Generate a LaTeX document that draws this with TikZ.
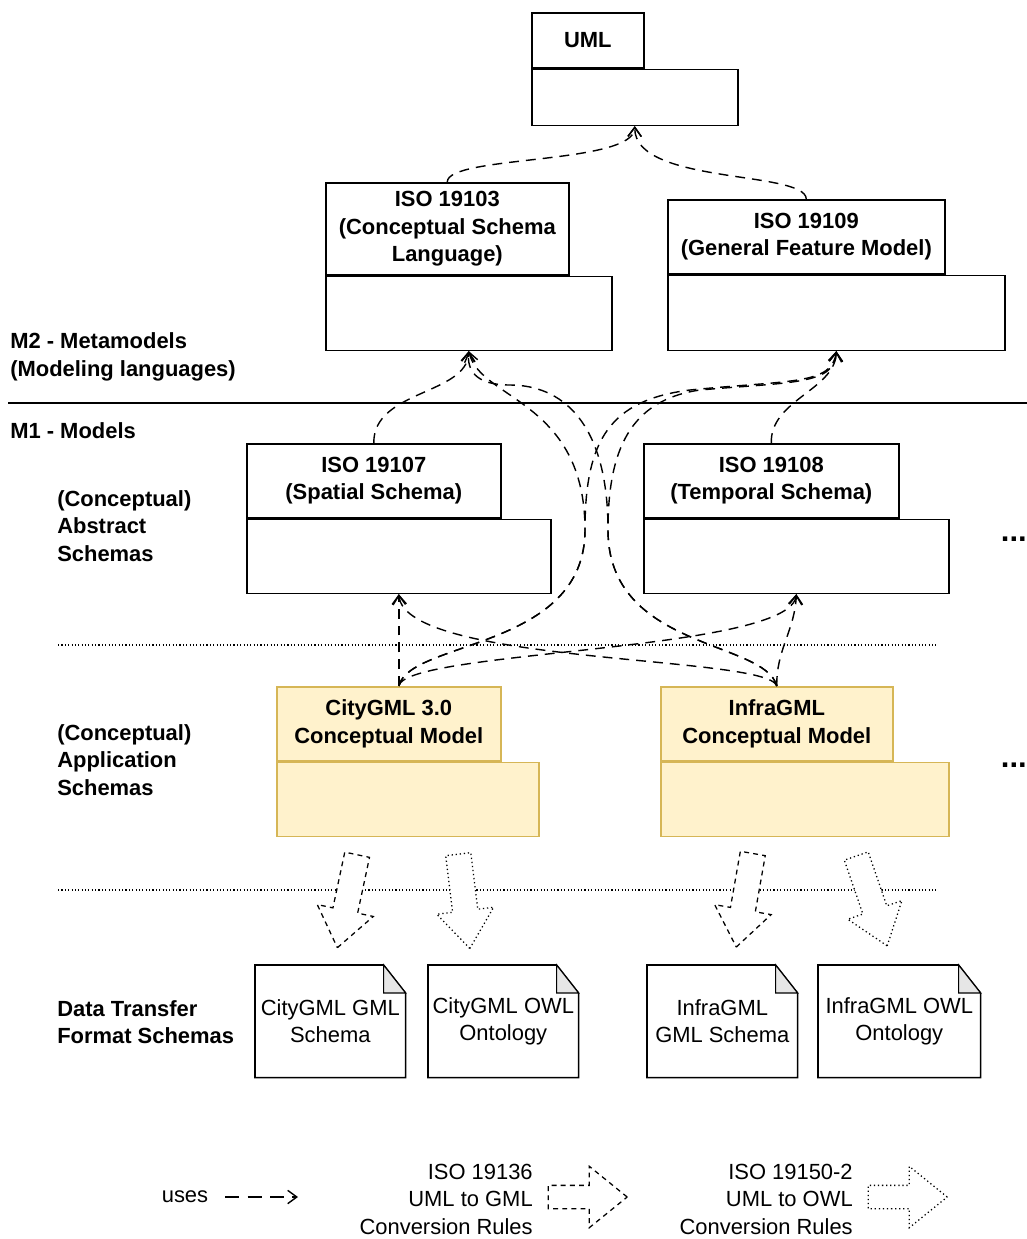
\documentclass[tikz,border=0pt]{standalone}
\usepackage{fontspec}
\setmainfont{Liberation Sans}
\usepackage{tikz}
\usetikzlibrary{arrows.meta, shapes.arrows}
\definecolor{appfill}{HTML}{FFF2CC}
\definecolor{appdraw}{HTML}{D6B656}
\definecolor{foldgray}{HTML}{E6E6E6}

\begin{document}
\begin{tikzpicture}[x = 0.025cm, y = -0.025cm,
    font = \fontsize{15.6}{19.6}\selectfont,
    pkgtab/.style = {draw, line width = 1.1pt, anchor = north west, inner sep = 0, align = center, font = \fontsize{15.6}{19.6}\selectfont\bfseries},
    pkgbody/.style = {draw, line width = 1.1pt, anchor = north west, inner sep = 0},
    apptab/.style = {pkgtab, fill = appfill, draw = appdraw},
    appbody/.style = {pkgbody, fill = appfill, draw = appdraw},
    docbox/.style = {anchor = north west, inner sep = 0, align = center, minimum width = 3.75cm, minimum height = 2.8cm},
    layerlabel/.style = {anchor = west, inner sep = 0, align = left, font = \fontsize{15.6}{19.6}\selectfont\bfseries},
    uses/.style = {line width = 1pt, dash pattern = on 7pt off 5pt, -{Straight Barb[length = 6.5pt, width = 9.5pt]}},
    gmlrule/.style = {draw, fill = white, line width = 0.9pt, dash pattern = on 3.5pt off 3pt, single arrow, inner xsep = 0, inner ysep = 0.3cm, minimum height = 2.375cm, single arrow head extend = 0.4cm, single arrow tip angle = 74},
    owlrule/.style = {gmlrule, dash pattern = on 0.9pt off 2pt},
    sep/.style = {line width = 0.8pt, dash pattern = on 0.8pt off 1.6pt}]
    \useasboundingbox (0,0) rectangle (1027,1239);

    % Layer separators
    \coordinate (m2m1west) at (8,403);
    \coordinate (m2m1east) at (1027,403);
    \draw[line width = 1pt] (m2m1west) -- (m2m1east);
    \coordinate (abswest) at (58,645);
    \coordinate (abseast) at (936,645);
    \draw[sep] (abswest) -- (abseast);
    \coordinate (appwest) at (58,890);
    \coordinate (appeast) at (936,890);
    \draw[sep] (appwest) -- (appeast);

    % Layer labels
    \node[layerlabel] (m2) at (10,357) {M2 - Metamodels\\(Modeling languages)};
    \node[layerlabel] (m1) at (10,431) {M1 - Models};
    \node[layerlabel] (abstract) at (57,526) {(Conceptual)\\Abstract\\Schemas};
    \node[layerlabel] (application) at (57,760) {(Conceptual)\\Application\\Schemas};
    \node[layerlabel] (transfer) at (57,1022) {Data Transfer\\Format Schemas};
    \node[anchor = base east, inner sep = 0, font = \fontsize{22}{24}\selectfont\bfseries] (moreabstract) at (1027,541) {...};
    \node[anchor = base east, inner sep = 0, font = \fontsize{22}{24}\selectfont\bfseries] (moreapplication) at (1027,767) {...};

    % Metamodel packages
    \node[pkgtab, minimum width = 2.8cm, minimum height = 1.375cm] (uml) at (531,12) {UML};
    \node[pkgbody, minimum width = 5.15cm, minimum height = 1.4cm] (umlbody) at (uml.south west) {};
    \node[pkgtab, minimum width = 6.075cm, minimum height = 2.3cm] (iso19103) at (325,182) {ISO 19103\\(Conceptual Schema\\Language)};
    \node[pkgbody, minimum width = 7.15cm, minimum height = 1.85cm] (iso19103body) at (iso19103.south west) {};
    \node[pkgtab, minimum width = 6.925cm, minimum height = 1.85cm] (iso19109) at (667,199) {ISO 19109\\(General Feature Model)};
    \node[pkgbody, minimum width = 8.425cm, minimum height = 1.875cm] (iso19109body) at (iso19109.south west) {};

    % Abstract schemas
    \node[pkgtab, minimum width = 6.35cm, minimum height = 1.85cm] (iso19107) at (246,443) {ISO 19107\\(Spatial Schema)};
    \node[pkgbody, minimum width = 7.6cm, minimum height = 1.85cm] (iso19107body) at (iso19107.south west) {};
    \node[pkgtab, minimum width = 6.375cm, minimum height = 1.85cm] (iso19108) at (643,443) {ISO 19108\\(Temporal Schema)};
    \node[pkgbody, minimum width = 7.625cm, minimum height = 1.85cm] (iso19108body) at (iso19108.south west) {};

    % Application schemas
    \node[apptab, minimum width = 5.6cm, minimum height = 1.85cm] (citygml) at (276,686) {CityGML 3.0\\Conceptual Model};
    \node[appbody, minimum width = 6.55cm, minimum height = 1.85cm] (citygmlbody) at (citygml.south west) {};
    \node[apptab, minimum width = 5.8cm, minimum height = 1.85cm] (infragml) at (660,686) {InfraGML\\Conceptual Model};
    \node[appbody, minimum width = 7.2cm, minimum height = 1.85cm] (infragmlbody) at (infragml.south west) {};

    % Uses between metamodels
    \draw[uses] (iso19103.north) .. controls (447,155) and (634,165) .. (umlbody.south);
    \draw[uses] (iso19109.north) .. controls (805,170) and (634,185) .. (umlbody.south);
    \draw[uses] (iso19107.north) .. controls (373,390) and (467,395) .. (iso19103body.south);
    \draw[uses] (iso19108.north) .. controls (770,400) and (835,390) .. (iso19109body.south);

    % Uses from application schemas
    \coordinate (citytop) at (citygml.north -| iso19107body.south);
    \draw[uses] (citytop) -- (iso19107body.south);
    \draw[uses] (infragml.north) .. controls (776,650) and (795,630) .. (iso19108body.south);
    \draw[uses] (infragml.north) .. controls (768,655) and (405,665) .. (iso19107body.south);
    \draw[uses] (citytop) .. controls (405,650) and (790,652) .. (iso19108body.south);
    \draw[uses] (citytop) .. controls (410,640) and (585,650) .. (585,530) .. controls (585,400) and (480,400) .. (iso19103body.south);
    \draw[uses] (citytop) .. controls (410,640) and (585,650) .. (585,530) .. controls (585,440) and (610,400) .. (690,390) .. controls (790,380) and (832,385) .. (iso19109body.south);
    \draw[uses] (infragml.north) .. controls (765,640) and (608,650) .. (608,530) .. controls (608,450) and (630,400) .. (700,390) .. controls (790,382) and (835,385) .. (iso19109body.south);
    \draw[uses] (infragml.north) .. controls (765,640) and (608,650) .. (608,530) .. controls (608,420) and (560,385) .. (510,385) .. controls (475,385) and (467,370) .. (iso19103body.south);

    % Conversion arrows
    \node[gmlrule, rotate = -102] (citytogml) at (349,893) {};
    \node[owlrule, rotate = -83] (citytoowl) at (463,893) {};
    \node[gmlrule, rotate = -100] (infratogml) at (746,892) {};
    \node[owlrule, rotate = -71] (infratoowl) at (869,893) {};

    % Data transfer format schemas
    \node[docbox] (citygmlgml) at (255,965) {CityGML GML\\Schema};
    \node[docbox] (citygmlowl) at (428,965) {CityGML OWL\\Ontology};
    \node[docbox] (infragmlgml) at (647,965) {InfraGML\\GML Schema};
    \node[docbox, minimum width = 4.05cm] (infragmlowl) at (818,965) {InfraGML OWL\\Ontology};
    \foreach \n in {citygmlgml, citygmlowl, infragmlgml, infragmlowl} {
      \draw[line width = 1.1pt] (\n.north west) -- ([xshift = -0.55cm]\n.north east) -- ([yshift = -0.7cm]\n.north east) -- (\n.south east) -- (\n.south west) -- cycle;
      \draw[line width = 0.8pt, fill = foldgray] ([xshift = -0.55cm]\n.north east) -- ([xshift = -0.55cm, yshift = -0.7cm]\n.north east) -- ([yshift = -0.7cm]\n.north east) -- cycle;
    }

    % Legend
    \node (useslabel) at (185,1197) {uses};
    \coordinate (usesstart) at (225,1197);
    \coordinate (usesend) at (298,1197);
    \draw[uses, dash pattern = on 10pt off 6pt] (usesstart) -- (usesend);
    \node[anchor = east, align = right, inner sep = 0] (gmlrules) at (533,1199) {ISO 19136\\UML to GML\\Conversion Rules};
    \node[gmlrule, minimum height = 1.975cm, inner ysep = 0.275cm, single arrow head extend = 0.475cm, single arrow tip angle = 78] (gmllegend) at (580.5,1197) {};
    \node[anchor = east, align = right, inner sep = 0] (owlrules) at (853,1199) {ISO 19150-2\\UML to OWL\\Conversion Rules};
    \node[owlrule, minimum height = 1.975cm, inner ysep = 0.275cm, single arrow head extend = 0.475cm, single arrow tip angle = 78] (owllegend) at (900.5,1197) {};
\end{tikzpicture}
\end{document}
